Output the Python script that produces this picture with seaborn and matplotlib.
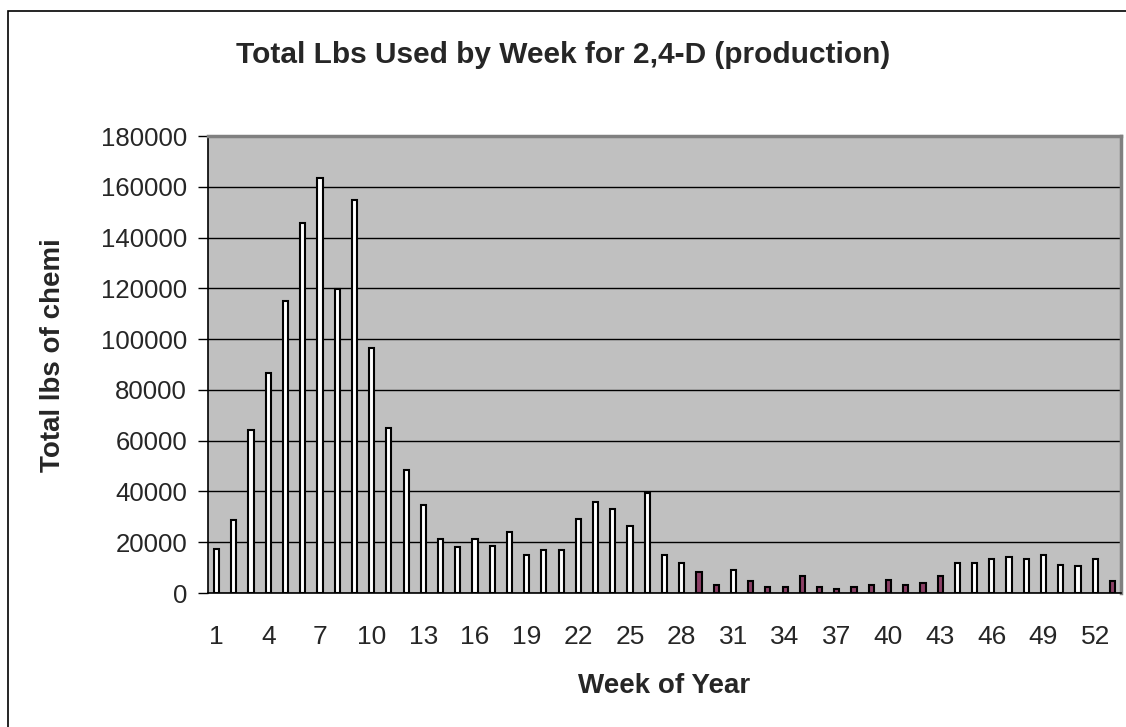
import matplotlib
matplotlib.use('Agg')
import matplotlib.pyplot as plt
import matplotlib.patches as patches
import pandas as pd
import seaborn as sns

weeks = list(range(1, 54))
lbs = [17300, 28600, 64300, 86700, 115200, 145800, 163600, 119700, 154700, 96400,
       65100, 48600, 34500, 21100, 18100, 21100, 18700, 23900, 15000, 17100,
       17100, 29100, 35800, 32900, 26200, 39400, 15000, 11900, 8300, 3000,
       9000, 4600, 2200, 2200, 6700, 2200, 1400, 2200, 3000, 5200,
       3000, 3800, 6700, 11900, 11900, 13500, 14100, 13500, 15000, 11200,
       10500, 13500, 4600]
purple_weeks = [29, 30, 32, 33, 34, 35, 36, 37, 38, 39, 40, 41, 42, 43, 53]

df = pd.DataFrame({'week': [str(w) for w in weeks], 'lbs': lbs})
df['grp'] = ['p' if w in purple_weeks else 'w' for w in weeks]

sns.set_style('white')
plt.rcParams['font.family'] = ['Liberation Sans', 'DejaVu Sans']

fig = plt.figure(figsize=(11.26, 7.27), dpi=100)
ax = fig.add_axes([0.1847, 0.1843, 0.8109, 0.6286])
ax.set_facecolor('#C0C0C0')

sns.barplot(data=df, x='week', y='lbs', hue='grp', dodge=False,
            palette={'w': 'white', 'p': '#993366'}, width=0.3,
            edgecolor='black', linewidth=1.5, legend=False, ax=ax, zorder=3)

ax.set_ylim(0, 180000)
ax.set_xlim(-0.5, 52.5)
ax.set_yticks(range(0, 180001, 20000))
ax.set_yticklabels([str(v) for v in range(0, 180001, 20000)], fontsize=18.5)
ax.yaxis.grid(True, color='black', linewidth=1, zorder=1)
ax.set_axisbelow(True)

ax.set_xticks(range(0, 53, 3))
ax.set_xticklabels([str(w) for w in weeks[::3]], fontsize=19)
ax.set_xticks([i - 0.5 for i in range(54)], minor=True)
ax.tick_params(axis='x', which='major', length=0, pad=23)
ax.tick_params(axis='x', which='minor', length=7, width=1, color='black', direction='out')
ax.tick_params(axis='y', length=7, width=1, color='black', direction='out', left=True, pad=8)

for s in ['left', 'bottom']:
    ax.spines[s].set_color('black')
    ax.spines[s].set_linewidth(1.2)
for s in ['top', 'right']:
    ax.spines[s].set_color('#808080')
    ax.spines[s].set_linewidth(2.5)

ax.set_xlabel('Week of Year', fontsize=20, fontweight='bold')
ax.xaxis.set_label_coords(0.5, -0.175)
ax.set_ylabel('Total lbs of chemi', fontsize=20, fontweight='bold')
ax.yaxis.set_label_coords(-0.156, 0.52)
fig.text(0.5, 0.9134, 'Total Lbs Used by Week for 2,4-D (production)', fontsize=21.5,
         fontweight='bold', ha='center', va='baseline')

fig.patches.append(patches.Rectangle((0.007, -0.02), 1.1, 1.005, transform=fig.transFigure,
                                     fill=False, edgecolor='black', linewidth=1.2))

fig.savefig('out.png', dpi=100)
